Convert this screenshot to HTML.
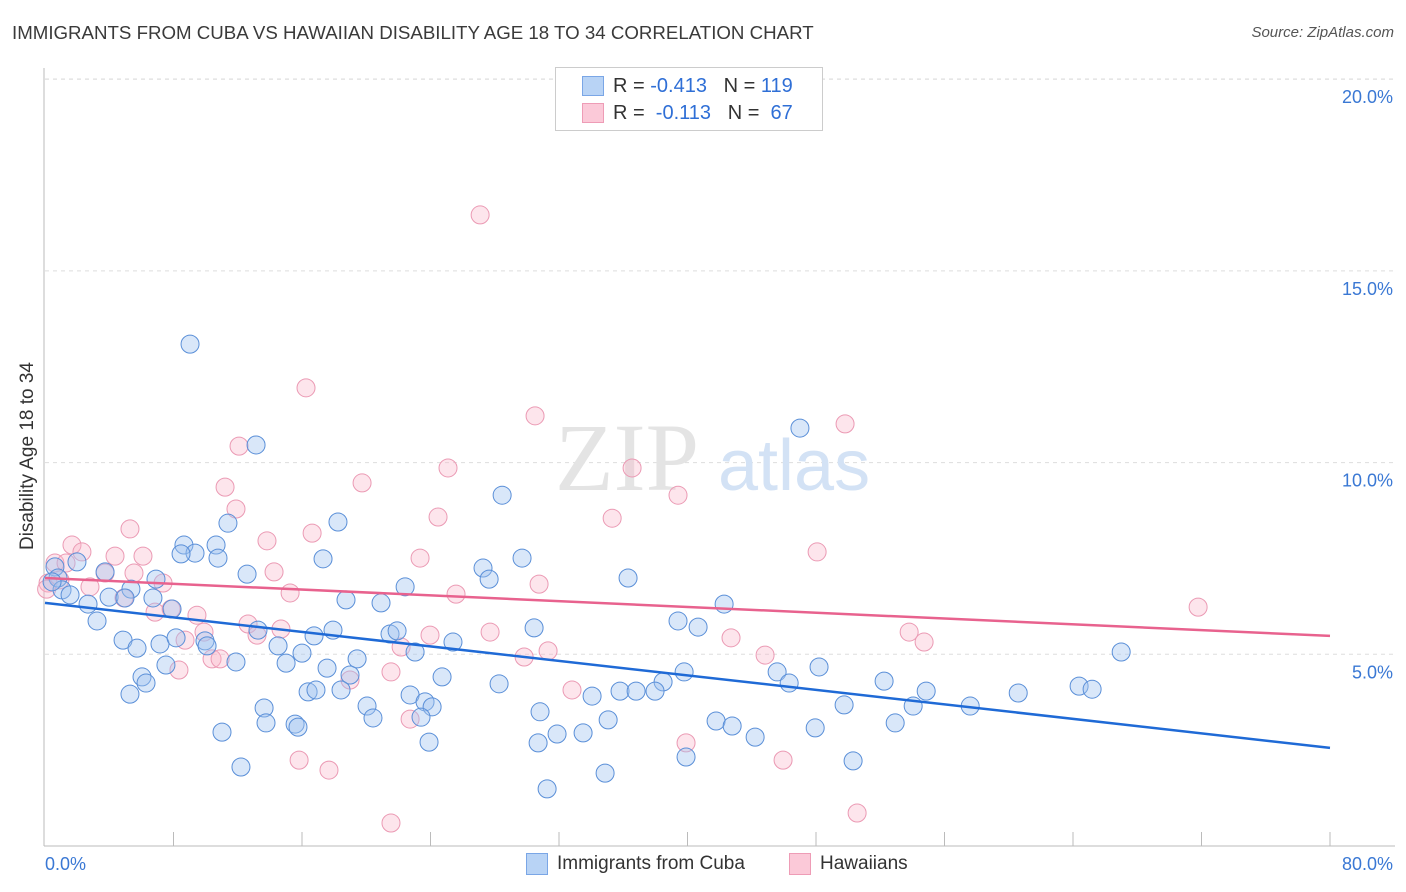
<!DOCTYPE html>
<html><head><meta charset="utf-8"><style>
body{margin:0;background:#fff;font-family:"Liberation Sans",sans-serif;}
#wrap{position:relative;width:1406px;height:892px;overflow:hidden;}
.t{position:absolute;white-space:nowrap;}
</style></head><body>
<div id="wrap">
<div class="t" style="left:12px;top:22px;font-size:18.7px;color:#3a3a3a;">IMMIGRANTS FROM CUBA VS HAWAIIAN DISABILITY AGE 18 TO 34 CORRELATION CHART</div>
<div class="t" style="right:12px;top:24px;font-size:15px;color:#555;font-style:italic;">Source: ZipAtlas.com</div>
<div class="t" style="left:-72px;top:445px;font-size:19px;color:#333;transform:rotate(-90deg);width:200px;text-align:center;">Disability Age 18 to 34</div>
<svg id="plot" width="1406" height="892" style="position:absolute;left:0;top:0"></svg>
<div style="position:absolute;left:555px;top:67px;width:266px;height:62px;border:1px solid #ccc;background:#fff;">
 <div style="position:absolute;left:26px;top:8px;width:20px;height:18px;background:#b8d3f5;border:1px solid #7aa6e6;"></div>
 <div class="t" style="left:57px;top:7px;font-size:20px;color:#333;">R = <span style="color:#2f6fd6">-0.413</span>&nbsp;&nbsp;&nbsp;N = <span style="color:#2f6fd6">119</span></div>
 <div style="position:absolute;left:26px;top:35px;width:20px;height:18px;background:#fbc9d8;border:1px solid #ee9cb6;"></div>
 <div class="t" style="left:57px;top:34px;font-size:20px;color:#333;">R = &nbsp;<span style="color:#2f6fd6">-0.113</span>&nbsp;&nbsp;&nbsp;N = &nbsp;<span style="color:#2f6fd6">67</span></div>
</div>
<div style="position:absolute;left:526px;top:853px;width:20px;height:20px;background:#b8d3f5;border:1px solid #7aa6e6;"></div>
<div class="t" style="left:557px;top:853px;font-size:19px;color:#333;">Immigrants from Cuba</div>
<div style="position:absolute;left:789px;top:853px;width:20px;height:20px;background:#fbc9d8;border:1px solid #ee9cb6;"></div>
<div class="t" style="left:820px;top:853px;font-size:19px;color:#333;">Hawaiians</div>
</div>
<script>
const yTicks=[5,10,15,20];
const yTickLabels=["5.0%","10.0%","15.0%","20.0%"];
const xTickLabels=["0.0%","80.0%"];
const cubaX=[9.03,13.14,47.0,28.46,11.39,18.24,8.65,9.34,8.47,10.65,10.77,17.31,27.27,29.70,12.58,6.91,3.74,5.35,1.99,3.99,0.62,0.81,1.06,1.56,2.68,3.24,4.98,6.72,7.91,18.74,20.92,22.42,27.65,36.30,42.28,4.86,5.73,7.16,8.16,9.96,10.09,13.26,14.51,16.75,17.93,21.48,21.92,23.04,25.40,30.45,39.41,40.66,67.0,7.53,11.89,15.01,16.00,17.56,19.43,18.99,6.04,6.29,5.29,13.64,16.38,16.87,18.43,20.05,22.73,23.66,24.10,24.72,28.27,38.48,39.79,45.58,46.33,48.19,52.24,54.86,54.05,49.75,57.60,60.59,64.38,65.19,34.06,35.80,36.80,37.98,20.42,23.41,13.76,15.57,15.75,30.82,35.06,41.78,42.78,11.02,30.70,31.88,33.50,23.91,44.21,47.95,52.93,39.91,50.31,12.20,34.87,31.26,0.44];
const cubaY=[13.09,10.46,10.90,9.15,8.42,8.45,7.85,7.64,7.62,7.85,7.51,7.49,7.25,7.51,7.09,6.96,7.15,6.70,7.41,6.49,7.28,6.99,6.68,6.55,6.31,5.87,6.47,6.47,6.18,6.42,6.34,6.76,6.96,6.99,6.31,5.37,5.16,5.27,5.43,5.35,5.22,5.63,5.22,5.48,5.63,5.53,5.61,5.06,5.32,5.69,5.87,5.71,5.06,4.72,4.80,4.77,5.03,4.64,4.88,4.46,4.41,4.25,3.96,3.60,4.02,4.07,4.07,3.65,3.94,3.76,3.63,4.41,4.23,4.28,4.54,4.54,4.25,4.67,4.30,4.04,3.65,3.68,3.65,3.99,4.17,4.09,3.91,4.04,4.04,4.04,3.34,3.36,3.21,3.18,3.10,3.50,3.29,3.26,3.13,2.97,2.69,2.92,2.95,2.71,2.84,3.08,3.21,2.32,2.22,2.06,1.90,1.49,6.89];
const hawX=[27.09,16.25,30.51,49.81,12.08,25.09,36.55,19.74,11.21,39.41,11.89,24.47,35.31,5.29,16.63,13.82,1.68,2.30,4.36,6.10,23.35,48.07,0.62,1.31,3.74,5.54,7.35,0.93,0.19,2.80,4.92,14.26,30.76,25.59,15.26,71.79,7.85,9.46,6.85,12.64,13.20,14.69,23.97,27.71,42.71,53.80,54.73,8.72,9.90,22.17,31.32,29.83,44.83,10.40,10.90,8.34,21.54,18.99,32.81,22.73,39.91,15.82,17.68,45.95,21.54,50.56,0.1];
const hawY=[16.46,11.95,11.22,11.01,10.43,9.86,9.86,9.47,9.36,9.15,8.79,8.58,8.55,8.27,8.16,7.96,7.85,7.67,7.56,7.56,7.51,7.67,7.38,7.38,7.12,7.12,6.86,6.94,6.86,6.76,6.47,7.15,6.83,6.57,6.60,6.23,6.18,6.02,6.10,5.79,5.50,5.66,5.50,5.58,5.43,5.58,5.32,5.37,5.58,5.19,5.09,4.93,4.98,4.88,4.88,4.59,4.54,4.33,4.07,3.31,2.69,2.24,1.98,2.24,0.60,0.86,6.7];
const cubaTrend=[6.34,2.56];
const hawTrend=[6.99,5.48];
const X=v=>45+v/80*1285;
const Y=v=>846-v*38.34;
const NS="http://www.w3.org/2000/svg";
const svg=document.getElementById('plot');
function mk(tag,attrs,name){const e=document.createElementNS(NS,tag);for(const k in attrs)e.setAttribute(k,attrs[k]);


svg.appendChild(e);return e;}
mk('line',{x1:45,x2:1395,y1:79,y2:79,stroke:'#ddd','stroke-dasharray':'4,4'},'grid-top');
yTicks.forEach((t,i)=>{
mk('line',{x1:45,x2:1395,y1:Y(t),y2:Y(t),stroke:'#ddd','stroke-dasharray':'4,4'},'grid-line');
const tx=mk('text',{x:1393,y:Y(t)+24,'text-anchor':'end','font-size':18,fill:'#3a78d4','font-family':'Liberation Sans'},'y-tick-label');tx.textContent=yTickLabels[i];
});
mk('line',{x1:44,x2:44,y1:68,y2:846,stroke:'#bbb'},'y-axis-line');
mk('line',{x1:44,x2:1395,y1:846,y2:846,stroke:'#bbb'},'x-axis-line');
for(let v=8;v<=80;v+=8){mk('line',{x1:X(v),x2:X(v),y1:832,y2:846,stroke:'#bbb'},'x-tick');}
let t0=mk('text',{x:45,y:870,'font-size':18,fill:'#3a78d4','font-family':'Liberation Sans'},'x-tick-label');t0.textContent=xTickLabels[0];
let t1=mk('text',{x:1393,y:870,'text-anchor':'end','font-size':18,fill:'#3a78d4','font-family':'Liberation Sans'},'x-tick-label');t1.textContent=xTickLabels[1];
let w1=mk('text',{x:555,y:490,'font-size':96,fill:'#e4e4e4','font-family':'Liberation Serif'},'watermark-zip');w1.textContent='ZIP';
let w2=mk('text',{x:718,y:490,'font-size':72,fill:'#d3e2f5','font-family':'Liberation Sans'},'watermark-atlas');w2.textContent='atlas';
hawX.forEach((x,i)=>mk('circle',{cx:X(x),cy:Y(hawY[i]),r:9,fill:'rgba(248,180,200,0.35)',stroke:'#eb9ab4','stroke-width':1},'hawaiians-point'));
cubaX.forEach((x,i)=>mk('circle',{cx:X(x),cy:Y(cubaY[i]),r:9,fill:'rgba(160,196,240,0.4)',stroke:'#5a8fd8','stroke-width':1},'cuba-point'));
mk('line',{x1:X(0),x2:X(80),y1:Y(hawTrend[0]),y2:Y(hawTrend[1]),stroke:'#e8628e','stroke-width':2.5},'hawaiians-trend-line');
mk('line',{x1:X(0),x2:X(80),y1:Y(cubaTrend[0]),y2:Y(cubaTrend[1]),stroke:'#1f6ad6','stroke-width':2.5},'cuba-trend-line');
</script>
</body></html>
